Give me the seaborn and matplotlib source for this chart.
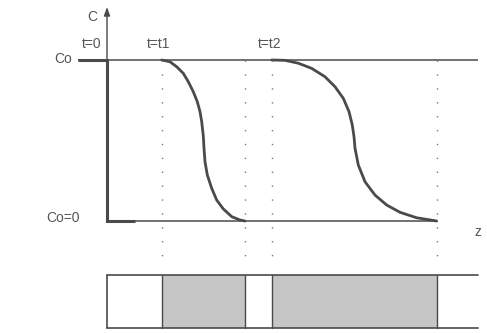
import numpy as np
import pandas as pd
import matplotlib
matplotlib.use("Agg")
import matplotlib.pyplot as plt
import seaborn as sns

# ---- data (z in arbitrary distance units, C normalised to Co = 1) ----
curve1_z = [5.47, 6.3, 6.97, 7.63, 8.13, 8.63, 9.03, 9.3, 9.47, 9.63, 9.7, 9.8,
            10.03, 10.47, 10.97, 11.63, 12.47, 13.3, 13.8]
curve1_c = [1.0, 0.989, 0.958, 0.917, 0.865, 0.803, 0.741, 0.679, 0.617, 0.528,
            0.452, 0.368, 0.286, 0.203, 0.130, 0.075, 0.027, 0.006, 0.0]
curve2_z = [16.47, 17.8, 19.13, 20.47, 21.8, 22.8, 23.63, 24.2, 24.53, 24.7, 24.8,
            25.13, 25.8, 26.8, 27.97, 29.3, 30.97, 32.97]
curve2_c = [1.0, 0.998, 0.98, 0.948, 0.896, 0.834, 0.762, 0.679, 0.596, 0.524,
            0.452, 0.348, 0.244, 0.161, 0.099, 0.054, 0.020, 0.0]
step_z = [-2.9, 0.0, 0.0, 2.8]
step_c = [1.0, 1.0, 0.0, 0.0]
front_edges = [5.47, 13.8, 16.47, 32.97]
shaded_bands = [(5.47, 13.8), (16.47, 32.97)]
time_labels = ["t=0", "t=t1", "t=t2"]
time_label_z = [-1.5, 5.2, 16.3]
level_labels = ["Co", "Co=0"]

# ---- style ----
sns.set_style("white")
plt.rcParams["font.family"] = ["Liberation Sans", "DejaVu Sans"]
ink = "#4a4a4a"
txt = "#555555"
fs = 10

fig = plt.figure(figsize=(4.87, 3.33), dpi=100)
ax = fig.add_axes([0, 0, 1, 1])
ax.set_xlim(-10.7, 38.0)
ax.set_ylim(-0.6957, 1.3727)
ax.axis("off")

z_end = 37.1
bar_top, bar_bot = -0.3354, -0.6646
dot_bottom = -0.292

# Co reference line and baseline
ax.plot([step_z[0], z_end], [1, 1], color="#5a5a5a", lw=1.2, solid_capstyle="butt")
ax.plot([0, front_edges[-1]], [0, 0], color="#5a5a5a", lw=1.2, solid_capstyle="butt")

# C axis with arrow
ax.annotate("", xy=(0, 1.329), xytext=(0, 0.99),
            arrowprops=dict(arrowstyle="-|>,head_length=0.5,head_width=0.18",
                            color=ink, lw=1.0, shrinkA=0, shrinkB=0))

# t = 0 step profile
ax.plot(step_z, step_c, color=ink, lw=2.2, solid_joinstyle="miter", solid_capstyle="butt")

# concentration fronts
df1 = pd.DataFrame({"z": curve1_z, "C": curve1_c})
df2 = pd.DataFrame({"z": curve2_z, "C": curve2_c})
sns.lineplot(data=df1, x="z", y="C", sort=False, color=ink, lw=2.0, ax=ax,
             estimator=None, solid_joinstyle="round")
sns.lineplot(data=df2, x="z", y="C", sort=False, color=ink, lw=2.0, ax=ax,
             estimator=None, solid_joinstyle="round")
ax.set_xlabel("")
ax.set_ylabel("")

# dotted projection lines
for zz in front_edges:
    ax.plot([zz, zz], [1, dot_bottom], color="#777777", lw=1.0,
            linestyle=(0, (1, 9)))

# lower column strip
for (a, b) in shaded_bands:
    ax.fill_between([a, b], bar_bot, bar_top, color="#c6c6c6", lw=0)
    ax.plot([a, a], [bar_bot, bar_top], color=ink, lw=1.0)
    ax.plot([b, b], [bar_bot, bar_top], color=ink, lw=1.0)
ax.plot([0, z_end], [bar_top, bar_top], color=ink, lw=1.2)
ax.plot([0, z_end], [bar_bot, bar_bot], color=ink, lw=1.2)
ax.plot([0, 0], [bar_bot, bar_top], color=ink, lw=1.2)

# labels
ax.text(-1.5, 1.267, "C", ha="center", va="center", fontsize=fs, color=txt)
for lab, zz in zip(time_labels, time_label_z):
    ax.text(zz, 1.10, lab, ha="center", va="center", fontsize=fs, color=txt)
ax.text(-3.5, 1.006, level_labels[0], ha="right", va="center", fontsize=fs, color=txt)
ax.text(-2.7, 0.019, level_labels[1], ha="right", va="center", fontsize=fs, color=txt)
ax.text(37.1, -0.068, "z", ha="center", va="center", fontsize=fs, color=txt)

fig.savefig("out.png", dpi=100)
